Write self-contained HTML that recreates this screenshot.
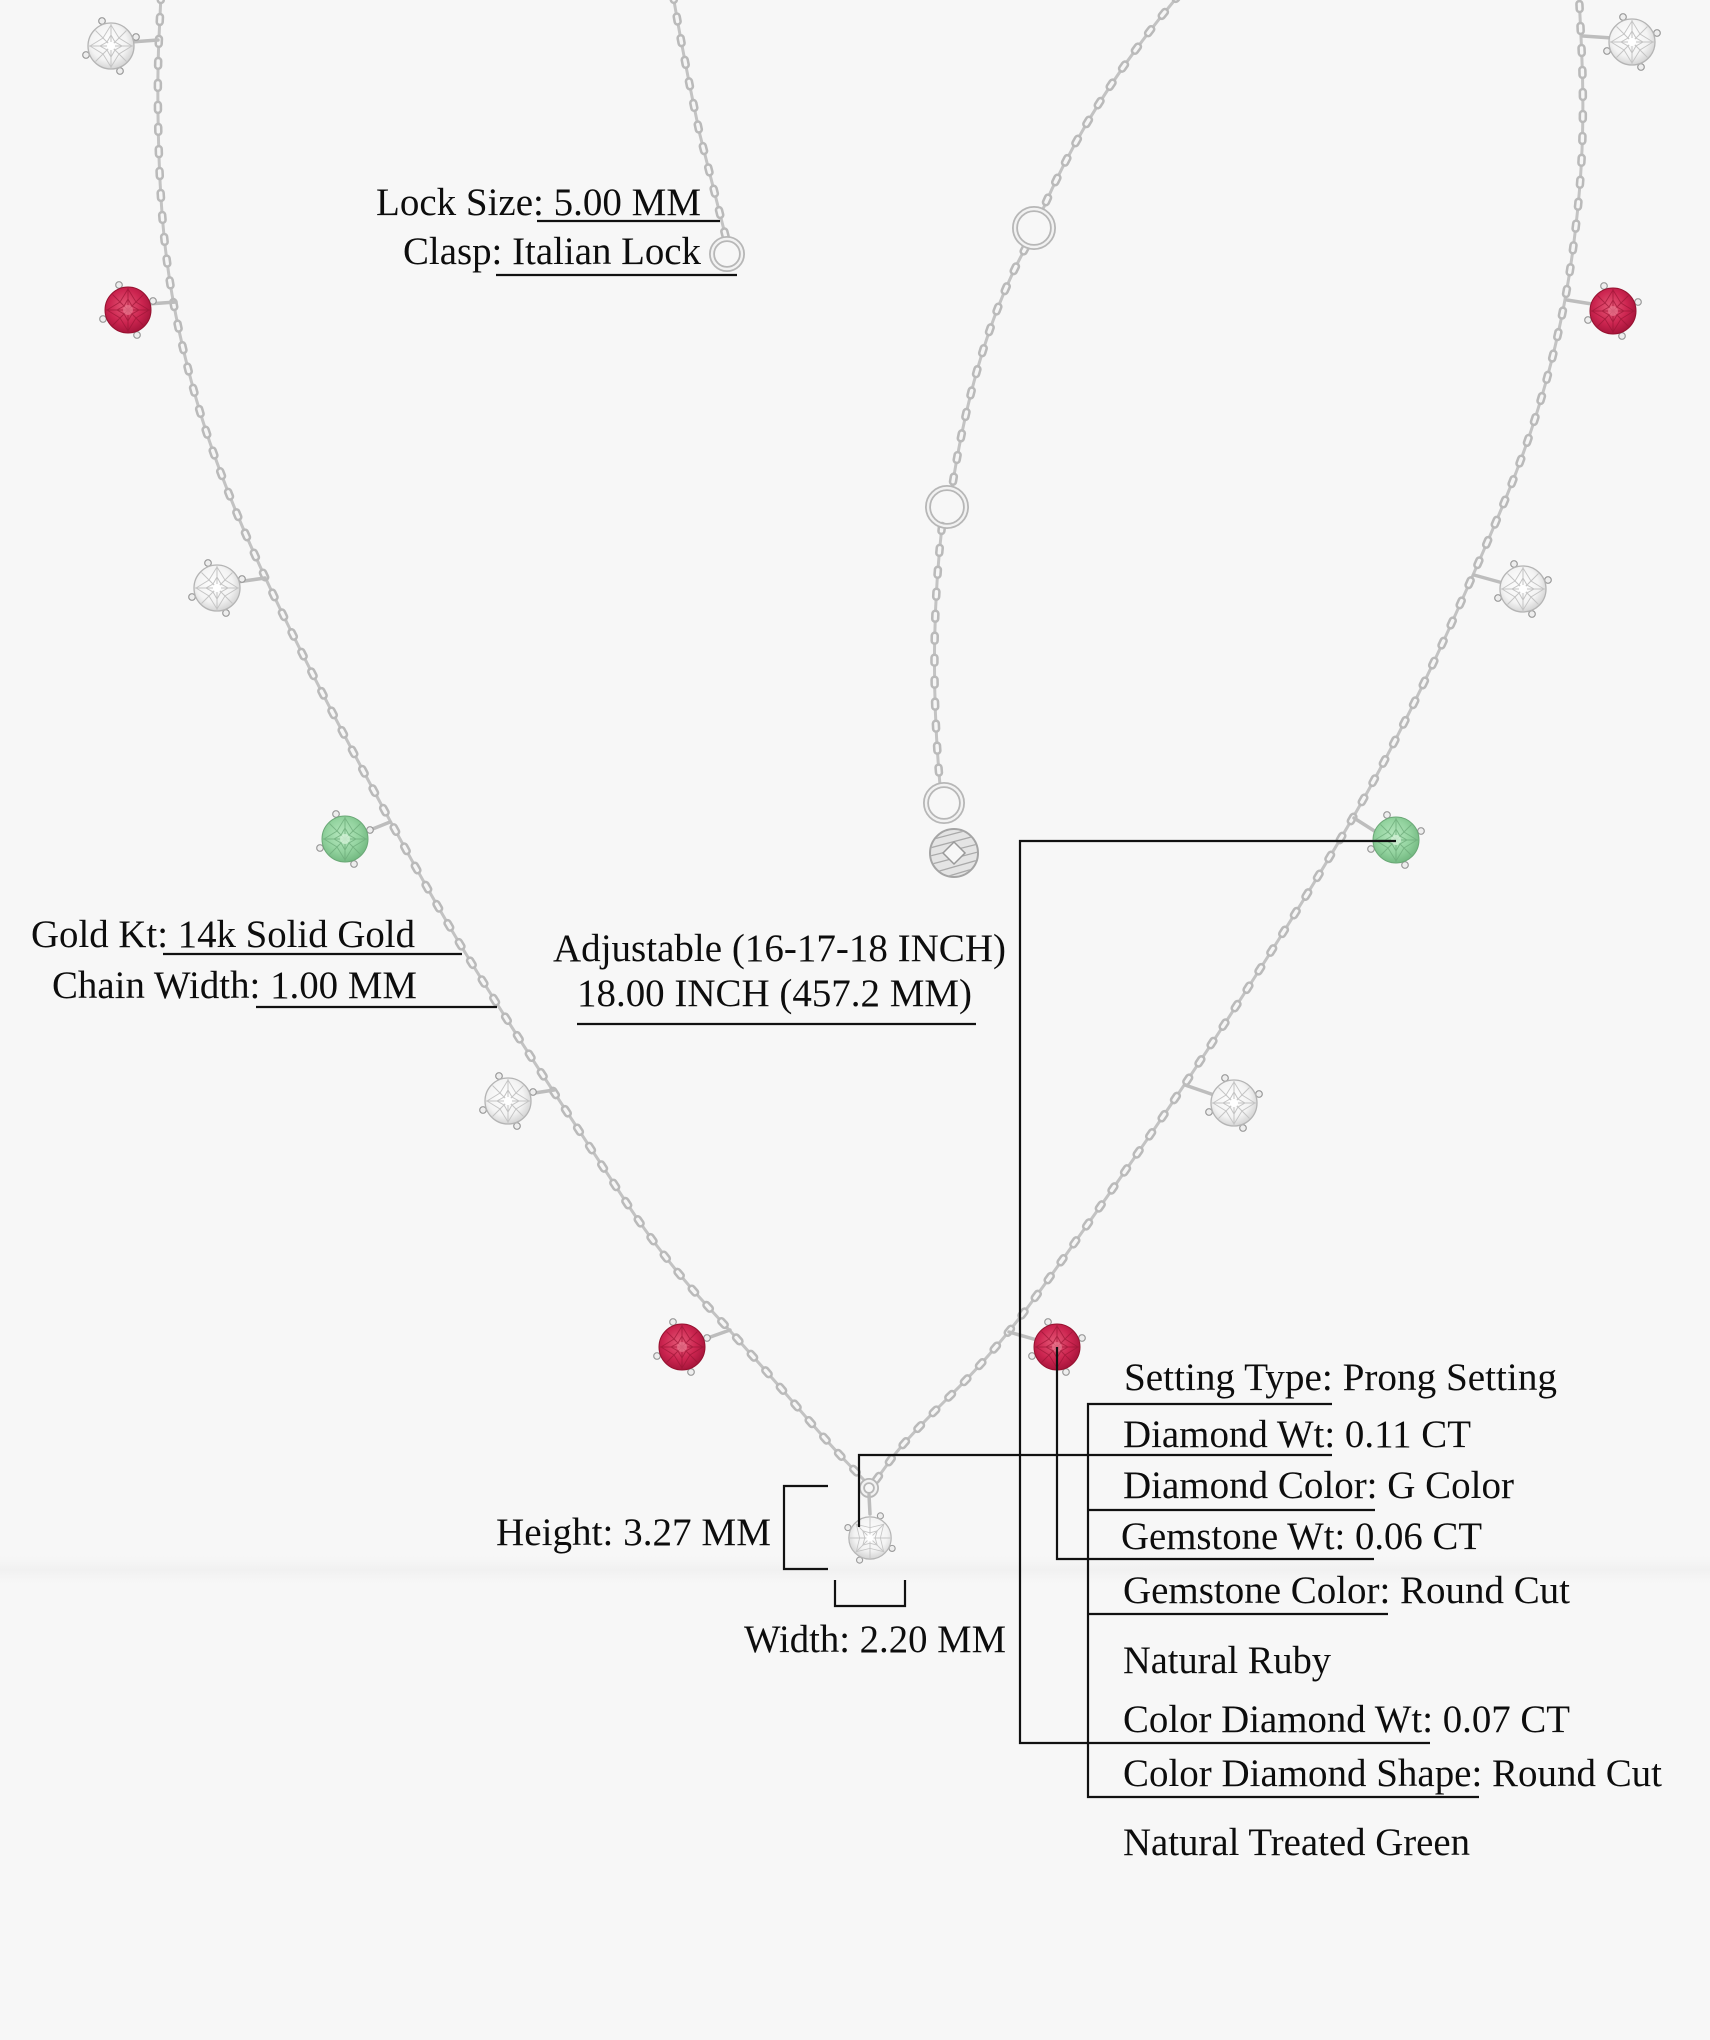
<!DOCTYPE html>
<html><head><meta charset="utf-8"><style>
html,body{margin:0;padding:0;background:#f7f7f7;}
svg{display:block;}
text{font-family:"Liberation Serif","Times New Roman",serif;font-size:39px;fill:#0d0d0d;}
</style></head><body>
<svg xmlns="http://www.w3.org/2000/svg" xmlns:xlink="http://www.w3.org/1999/xlink" width="1710" height="2040" viewBox="0 0 1710 2040">
<defs>
<radialGradient id="gD" cx="45%" cy="42%" r="60%"><stop offset="0" stop-color="#ffffff"/><stop offset="0.65" stop-color="#f3f3f3"/><stop offset="1" stop-color="#d2d2d2"/></radialGradient>
<radialGradient id="gR" cx="45%" cy="42%" r="60%"><stop offset="0" stop-color="#e65a78"/><stop offset="0.6" stop-color="#cc2550"/><stop offset="1" stop-color="#a5143a"/></radialGradient>
<radialGradient id="gG" cx="45%" cy="42%" r="60%"><stop offset="0" stop-color="#b8e8c0"/><stop offset="0.6" stop-color="#93d39f"/><stop offset="1" stop-color="#72b880"/></radialGradient>
<linearGradient id="shd" x1="0" y1="0" x2="0" y2="1"><stop offset="0" stop-color="#ececec" stop-opacity="0"/><stop offset="0.5" stop-color="#e9e9e9" stop-opacity="0.45"/><stop offset="1" stop-color="#ececec" stop-opacity="0"/></linearGradient>
<g id="prongs">
<circle cx="-9" cy="-25" r="3.3" fill="#eeeeee" stroke="#9a9a9a" stroke-width="1.2"/>
<circle cx="25" cy="-9" r="3.3" fill="#eeeeee" stroke="#9a9a9a" stroke-width="1.2"/>
<circle cx="9" cy="25" r="3.3" fill="#eeeeee" stroke="#9a9a9a" stroke-width="1.2"/>
<circle cx="-25" cy="9" r="3.3" fill="#eeeeee" stroke="#9a9a9a" stroke-width="1.2"/>
</g>
<g id="facets">
<path d="M0,-22 L0,22 M-22,0 L22,0 M-15.5,-15.5 L15.5,15.5 M-15.5,15.5 L15.5,-15.5" stroke-width="1"/>
<polygon points="0,-11 4,-4 11,0 4,4 0,11 -4,4 -11,0 -4,-4" fill="none" stroke-width="1"/>
<polygon points="0,-21 8,-8 21,0 8,8 0,21 -8,8 -21,0 -8,-8" fill="none" stroke-width="0.9"/>
</g>
<g id="dia">
<use xlink:href="#prongs"/>
<circle r="23" fill="url(#gD)" stroke="#b4b4b4" stroke-width="1.3"/>
<g stroke="#c4c4c4"><use xlink:href="#facets"/></g>
<circle r="4" fill="#ffffff"/>
</g>
<g id="ruby">
<use xlink:href="#prongs"/>
<circle r="23" fill="url(#gR)" stroke="#95112f" stroke-width="1"/>
<g stroke="#9c1636" opacity="0.7"><use xlink:href="#facets"/></g>
<circle r="5" fill="#e9778f" opacity="0.7"/>
</g>
<g id="green">
<use xlink:href="#prongs"/>
<circle r="23" fill="url(#gG)" stroke="#6aa876" stroke-width="1"/>
<g stroke="#6fae7c" opacity="0.8"><use xlink:href="#facets"/></g>
<circle r="5" fill="#d3f1d7" opacity="0.8"/>
</g>
<path id="cL" d="M161,-5 L159,37.5 Q157,80 158.5,140 Q160,200 165,245 Q170,290 180,335 Q190,380 202.5,420 Q215,460 235,509 Q255,558 290,629 Q325,700 377.5,797.5 Q430,895 464.5,951.5 Q499,1008 544,1077 Q589,1146 626,1202 Q663,1258 705.5,1304 Q748,1350 789,1397.5 Q830,1445 847,1462.5 L864,1480"/>
<path id="cR" d="M876,1480 L890.5,1460 Q905,1440 951,1395 Q997,1350 1039.5,1291.5 Q1082,1233 1140.5,1149 Q1199,1065 1270.5,952.5 Q1342,840 1379.5,770 Q1417,700 1449,629 Q1481,558 1505.5,499 Q1530,440 1546.5,380 Q1563,320 1571.5,260 Q1580,200 1582,150 Q1584,100 1581.5,47.5 L1579,-5"/>
<path id="cIL" d="M673,-5 Q684,60 700,135 Q714,190 726,238"/>
<path id="cIR1" d="M1179,-5 Q1090,100 1043,209"/>
<path id="cIR2" d="M1026,247 Q975,340 952,488"/>
<path id="cIR3" d="M942,526 Q928,650 940,785"/>
<g id="allchains">
<use xlink:href="#cL"/><use xlink:href="#cR"/><use xlink:href="#cIL"/><use xlink:href="#cIR1"/><use xlink:href="#cIR2"/><use xlink:href="#cIR3"/>
</g>
<clipPath id="tagclip"><circle cx="954" cy="853" r="23"/></clipPath>
</defs>

<rect width="1710" height="2040" fill="#f7f7f7"/>
<rect x="0" y="1556" width="1710" height="28" fill="url(#shd)"/>

<!-- chains -->
<g fill="none" stroke-linecap="round" stroke-linejoin="round">
<g stroke="#c3c3c3" stroke-width="3"><use xlink:href="#allchains"/></g>
<g stroke="#bababa" stroke-width="8.5" stroke-dasharray="5 17"><use xlink:href="#allchains"/></g>
<g stroke="#f6f6f6" stroke-width="3.4" stroke-dasharray="5 17"><use xlink:href="#allchains"/></g>
</g>

<!-- rings -->
<g fill="none">
<g stroke="#b7b7b7" stroke-width="6">
<circle cx="727" cy="254" r="15"/>
<circle cx="1034" cy="228" r="19"/>
<circle cx="947" cy="507" r="19"/>
<circle cx="944" cy="803" r="18"/>
<circle cx="869" cy="1488" r="7"/>
</g>
<g stroke="#f2f2f2" stroke-width="2.4">
<circle cx="727" cy="254" r="15"/>
<circle cx="1034" cy="228" r="19"/>
<circle cx="947" cy="507" r="19"/>
<circle cx="944" cy="803" r="18"/>
<circle cx="869" cy="1488" r="7"/>
</g>
</g>

<!-- tag -->
<circle cx="954" cy="853" r="24" fill="#e4e4e4" stroke="#a5a5a5" stroke-width="2"/>
<g clip-path="url(#tagclip)" stroke="#a9a9a9" stroke-width="1.3">
<path d="M930,840 L968,830 M930,848 L975,836 M930,856 L978,844 M932,864 L978,852 M936,872 L978,860 M942,878 L976,868"/>
</g>
<polygon points="954,842 965,853 954,864 943,853" fill="#f7f7f7" stroke="#999" stroke-width="1.5"/>

<!-- bails -->
<g stroke="#bdbdbd" stroke-width="3.5" stroke-linecap="round" fill="none">
<line x1="158" y1="40" x2="131" y2="42"/>
<line x1="176" y1="302" x2="148" y2="304"/>
<line x1="265" y1="578" x2="237" y2="582"/>
<line x1="390" y1="822" x2="365" y2="832"/>
<line x1="554" y1="1090" x2="528" y2="1094"/>
<line x1="730" y1="1330" x2="702" y2="1340"/>
<line x1="1583" y1="36" x2="1612" y2="38"/>
<line x1="1567" y1="300" x2="1592" y2="304"/>
<line x1="1474" y1="575" x2="1503" y2="583"/>
<line x1="1354" y1="818" x2="1376" y2="832"/>
<line x1="1185" y1="1085" x2="1214" y2="1095"/>
<line x1="1009" y1="1332" x2="1037" y2="1340"/>
<line x1="869" y1="1495" x2="870" y2="1514"/>
</g>

<!-- gems -->
<use xlink:href="#dia" x="111" y="46"/>
<use xlink:href="#ruby" x="128" y="310"/>
<use xlink:href="#dia" x="217" y="588"/>
<use xlink:href="#green" x="345" y="839"/>
<use xlink:href="#dia" x="508" y="1101"/>
<use xlink:href="#ruby" x="682" y="1347"/>
<use xlink:href="#dia" x="1632" y="42"/>
<use xlink:href="#ruby" x="1613" y="311"/>
<use xlink:href="#dia" x="1523" y="589"/>
<use xlink:href="#green" x="1396" y="840"/>
<use xlink:href="#dia" x="1234" y="1103"/>
<use xlink:href="#ruby" x="1057" y="1347"/>
<g transform="translate(870,1538) rotate(45) scale(0.92)"><use xlink:href="#dia"/></g>

<!-- leader lines -->
<g stroke="#111" stroke-width="2.2" fill="none">
<line x1="537" y1="221" x2="720" y2="221"/>
<line x1="496" y1="275" x2="737" y2="275"/>
<line x1="163" y1="954" x2="462" y2="954"/>
<line x1="256" y1="1007" x2="497" y2="1007"/>
<line x1="577" y1="1024" x2="976" y2="1024"/>
<path d="M828,1486 H784 V1569 H828"/>
<path d="M835,1580 V1606 H905 V1580"/>
<path d="M859,1527 V1455 H1332"/>
<path d="M1396,841 H1020 V1743 H1430"/>
<path d="M1057,1347 V1559 H1374"/>
<path d="M1332,1404 H1088 V1797 H1479"/>
<line x1="1088" y1="1510" x2="1375" y2="1510"/>
<line x1="1088" y1="1614" x2="1388" y2="1614"/>
</g>

<!-- labels -->
<text x="376" y="215" textLength="325" lengthAdjust="spacingAndGlyphs">Lock Size: 5.00 MM</text>
<text x="403" y="264" textLength="298" lengthAdjust="spacingAndGlyphs">Clasp: Italian Lock</text>
<text x="31" y="947" textLength="384" lengthAdjust="spacingAndGlyphs">Gold Kt: 14k Solid Gold</text>
<text x="52" y="998" textLength="365" lengthAdjust="spacingAndGlyphs">Chain Width: 1.00 MM</text>
<text x="553" y="961" textLength="453" lengthAdjust="spacingAndGlyphs">Adjustable (16-17-18 INCH)</text>
<text x="577" y="1006" textLength="395" lengthAdjust="spacingAndGlyphs">18.00 INCH (457.2 MM)</text>
<text x="496" y="1545" textLength="275" lengthAdjust="spacingAndGlyphs">Height: 3.27 MM</text>
<text x="744" y="1652" textLength="262" lengthAdjust="spacingAndGlyphs">Width: 2.20 MM</text>
<text x="1124" y="1390" textLength="433" lengthAdjust="spacingAndGlyphs">Setting Type: Prong Setting</text>
<text x="1123" y="1447" textLength="348" lengthAdjust="spacingAndGlyphs">Diamond Wt: 0.11 CT</text>
<text x="1123" y="1498" textLength="391" lengthAdjust="spacingAndGlyphs">Diamond Color: G Color</text>
<text x="1121" y="1549" textLength="361" lengthAdjust="spacingAndGlyphs">Gemstone Wt: 0.06 CT</text>
<text x="1123" y="1603" textLength="447" lengthAdjust="spacingAndGlyphs">Gemstone Color: Round Cut</text>
<text x="1123" y="1673" textLength="208" lengthAdjust="spacingAndGlyphs">Natural Ruby</text>
<text x="1123" y="1732" textLength="447" lengthAdjust="spacingAndGlyphs">Color Diamond Wt: 0.07 CT</text>
<text x="1123" y="1786" textLength="539" lengthAdjust="spacingAndGlyphs">Color Diamond Shape: Round Cut</text>
<text x="1123" y="1855" textLength="347" lengthAdjust="spacingAndGlyphs">Natural Treated Green</text>
</svg>
</body></html>
